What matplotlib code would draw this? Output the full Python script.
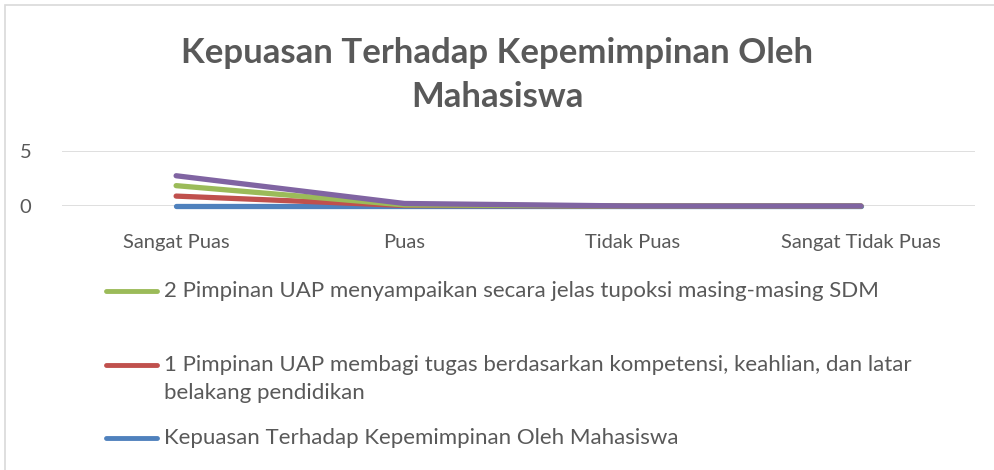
import matplotlib.pyplot as plt
from matplotlib.lines import Line2D
from matplotlib.patches import Rectangle
import numpy as np

plt.rcParams['font.family'] = ['Lato', 'DejaVu Sans']

# Categories and series (stacked line chart)
categories = ["Sangat Puas", "Puas", "Tidak Puas", "Sangat Tidak Puas"]
kepuasan = [0.0, 0.0, 0.0, 0.0]
pimpinan_1 = [0.9, 0.05, 0.0, 0.0]
pimpinan_2 = [0.95, 0.05, 0.0, 0.0]
pimpinan_3 = [0.9, 0.13, 0.0, 0.0]

labels = [
    ["Kepuasan Terhadap Kepemimpinan Oleh Mahasiswa"],
    ["1 Pimpinan UAP membagi tugas berdasarkan kompetensi, keahlian, dan latar",
     "belakang pendidikan"],
    ["2 Pimpinan UAP menyampaikan secara jelas tupoksi masing-masing SDM"],
]
colors = ["#4F81BD", "#C0504D", "#9BBB59", "#8064A2"]
text_color = "#595959"

W, H = 994, 470
fig = plt.figure(figsize=(W / 100, H / 100), dpi=100)
ax = fig.add_axes([62 / W, 1 - 206 / H, (975 - 62) / W, (206 - 151) / H])

x = np.arange(len(categories))
stack = np.cumsum([kepuasan, pimpinan_1, pimpinan_2, pimpinan_3], axis=0)
for i, ys in enumerate(stack):
    ax.plot(x, ys, color=colors[i], lw=3.8, solid_capstyle="round",
            solid_joinstyle="round", clip_on=False, zorder=3 + i)

ax.set_xlim(-0.5, len(categories) - 0.5)
ax.set_ylim(0, 5)
ax.set_yticks([0, 5])
ax.set_xticks(x)
ax.set_xticklabels(categories)
ax.tick_params(axis="both", length=0, colors=text_color, labelsize=14.5)
ax.tick_params(axis="y", pad=22)
ax.tick_params(axis="x", pad=20)
ax.grid(axis="y", color="#D9D9D9", lw=1.2)
ax.set_axisbelow(True)
for s in ax.spines.values():
    s.set_visible(False)

fig.text(0.5, 1 - 53 / H, "Kepuasan Terhadap Kepemimpinan Oleh", ha="center", va="center",
         fontsize=25, fontweight="bold", color=text_color)
fig.text(0.5, 1 - 97 / H, "Mahasiswa", ha="center", va="center",
         fontsize=25, fontweight="bold", color=text_color)

# Legend drawn below the plot (purple series is cut off in the original)
legend_rows = [(291, 2, labels[2]), (365, 1, labels[1]), (438, 0, labels[0])]
for ypix, ci, lines in legend_rows:
    yf = 1 - ypix / H
    fig.add_artist(Line2D([106 / W, 157 / W], [yf, yf], color=colors[ci], lw=3.5,
                          solid_capstyle="round", transform=fig.transFigure))
    for k, line in enumerate(lines):
        fig.text(164 / W, 1 - (ypix + 28 * k) / H, line, ha="left", va="center",
                 fontsize=16, color=text_color)

fig.add_artist(Rectangle((5 / W, -0.05), 1.1, 1 - 5 / H + 0.05, transform=fig.transFigure,
                         fill=False, edgecolor="#D9D9D9", lw=1.2))

fig.savefig("out.png", dpi=100)
